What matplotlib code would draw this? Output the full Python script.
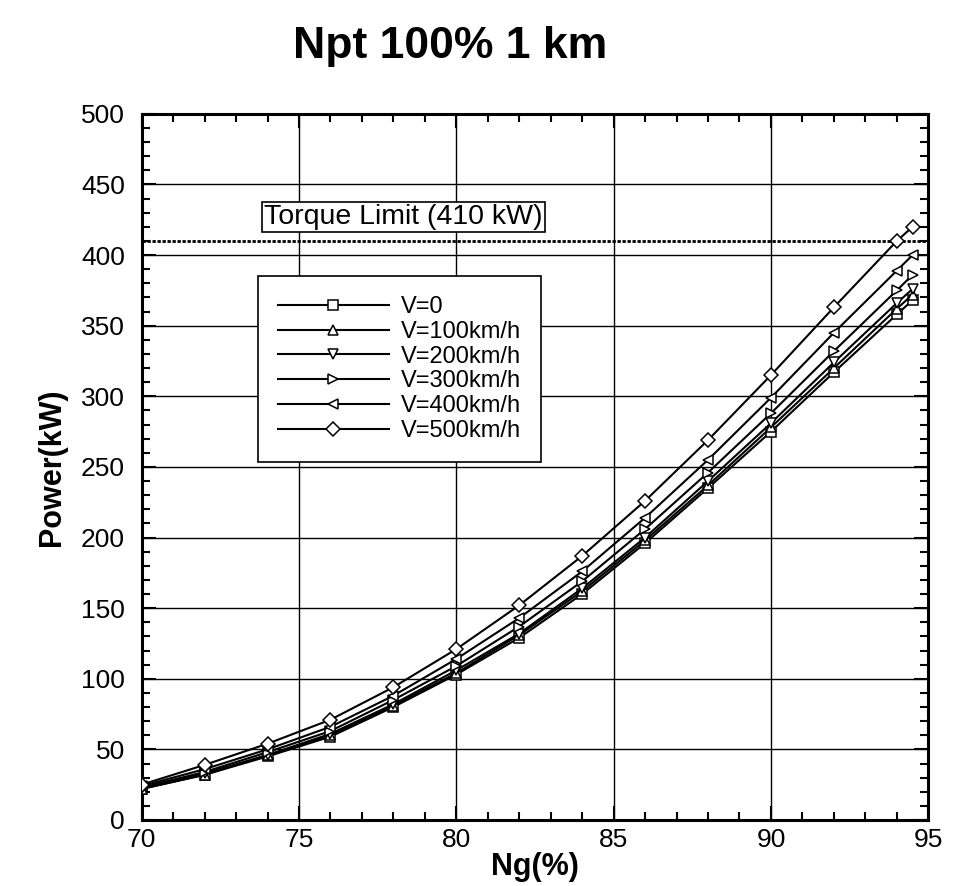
import matplotlib
matplotlib.use("Agg")
import matplotlib.pyplot as plt
from matplotlib.ticker import MultipleLocator

plt.rcParams['font.family'] = ['Liberation Sans', 'DejaVu Sans']

ng = [70, 72, 74, 76, 78, 80, 82, 84, 86, 88, 90, 92, 94, 94.5]
p_v0   = [22, 32, 45, 59, 80, 103, 129, 160, 196, 235, 275, 317, 358, 368]
p_v100 = [22, 32, 46, 60, 81, 104, 131, 162, 198, 237, 278, 320, 362, 372]
p_v200 = [23, 33, 46, 61, 82, 106, 132, 164, 200, 240, 281, 324, 366, 376]
p_v300 = [23, 34, 48, 63, 85, 109, 137, 169, 206, 246, 288, 332, 375, 386]
p_v400 = [24, 36, 50, 66, 88, 114, 143, 176, 214, 255, 299, 345, 389, 400]
p_v500 = [25, 39, 54, 71, 94, 121, 152, 187, 226, 269, 315, 363, 410, 420]

labels = ["V=0", "V=100km/h", "V=200km/h", "V=300km/h", "V=400km/h", "V=500km/h"]
markers = ["s", "^", "v", ">", "<", "D"]
series = [p_v0, p_v100, p_v200, p_v300, p_v400, p_v500]

torque_limit = 410
title = "Npt 100% 1 km"

fig = plt.figure(figsize=(9.57, 8.86), dpi=100)
ax = fig.add_axes([0.148, 0.0745, 0.822, 0.797])

for vals, lab, mk in zip(series, labels, markers):
    ms = 7 if mk == "D" else 7.5
    ax.plot(ng, vals, color="black", lw=1.5, marker=mk, ms=ms,
            mfc="white", mec="black", mew=1.1, label=lab, zorder=3)

ax.axhline(torque_limit, color="black", lw=2.0, ls=(0, (1.2, 0.6)), zorder=2)
ax.text(73.9, 427, "Torque Limit (410 kW)", fontsize=20.5, va="center", ha="left",
        bbox=dict(boxstyle="square,pad=0.08", fc="white", ec="black", lw=1.2), zorder=4)

ax.set_xlim(70, 95)
ax.set_ylim(0, 500)
ax.xaxis.set_major_locator(MultipleLocator(5))
ax.xaxis.set_minor_locator(MultipleLocator(1))
ax.yaxis.set_major_locator(MultipleLocator(50))
ax.yaxis.set_minor_locator(MultipleLocator(10))
ax.grid(True, which="major", color="black", lw=1.0)
ax.set_axisbelow(True)
ax.tick_params(which="both", direction="in", top=True, right=True, width=1.5)
ax.tick_params(which="major", length=10, labelsize=19)
ax.tick_params(axis="y", which="major", pad=12)
ax.tick_params(axis="x", which="major", pad=6)
ax.tick_params(which="minor", length=6)
for s in ax.spines.values():
    s.set_linewidth(2.2)

ax.set_xlabel("Ng(%)", fontsize=22, fontweight="bold", labelpad=0)
ax.set_ylabel("Power(kW)", fontsize=22, fontweight="bold", labelpad=10)
fig.text(0.47, 0.948, title, fontsize=32, fontweight="bold", ha="center", va="center",
         family=["Liberation Sans Narrow", "Liberation Sans", "DejaVu Sans"])

leg = ax.legend(loc="upper left", bbox_to_anchor=(0.1476, 0.7705), borderaxespad=0,
                fontsize=17, handlelength=4.7, labelspacing=0.12, handletextpad=0.5,
                fancybox=False, framealpha=1, edgecolor="black", borderpad=0.85)
leg.get_frame().set_linewidth(1.2)

fig.savefig("out.png", dpi=100)
